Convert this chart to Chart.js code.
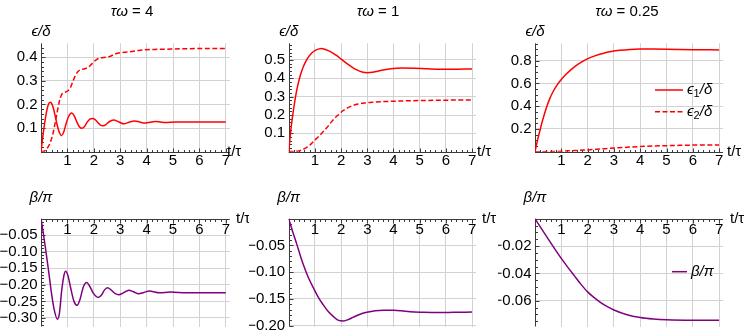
<!DOCTYPE html>
<html>
<head>
<meta charset="utf-8">
<script src="https://cdn.jsdelivr.net/npm/chart.js@4.4.0/dist/chart.umd.min.js"></script>
<style>
  html, body { margin: 0; padding: 0; background: #fff; }
  #wrap { position: relative; width: 747px; height: 336px; overflow: hidden; }
  #wrap canvas { position: absolute; }
</style>
</head>
<body>
<div id="wrap"></div>
<script>
// ===== data =====
const tauOmega = ['4', '1', '0.25'];
const xTickVals = [1, 2, 3, 4, 5, 6, 7];

// tau*omega = 4
const tEps1W4 = [0, 0.06, 0.13, 0.2, 0.27, 0.35, 0.44, 0.53, 0.62, 0.7, 0.77, 0.85, 0.95, 1.05, 1.16, 1.26, 1.36, 1.46, 1.55, 1.65, 1.75, 1.85, 1.95, 2.05, 2.15, 2.25, 2.35, 2.45, 2.55, 2.65, 2.75, 2.95, 3.14, 3.34, 3.54, 3.73, 3.93, 4.13, 4.33, 4.52, 4.72, 5.1, 5.5, 6, 7];
const eps1W4  = [0, 0.056, 0.115, 0.163, 0.197, 0.209, 0.195, 0.155, 0.11, 0.08, 0.068, 0.08, 0.118, 0.15, 0.164, 0.152, 0.125, 0.105, 0.099, 0.107, 0.125, 0.138, 0.141, 0.136, 0.124, 0.113, 0.11, 0.114, 0.124, 0.131, 0.134, 0.126, 0.118, 0.125, 0.13, 0.126, 0.121, 0.125, 0.128, 0.126, 0.124, 0.126, 0.126, 0.126, 0.126];
const tEps2W4 = [0, 0.14, 0.27, 0.37, 0.46, 0.58, 0.7, 0.78, 0.88, 1.0, 1.1, 1.2, 1.3, 1.4, 1.5, 1.65, 1.8, 1.95, 2.1, 2.25, 2.45, 2.6, 2.75, 2.9, 3.05, 3.3, 3.5, 3.7, 3.9, 4.3, 4.7, 5.5, 6.3, 7];
const eps2W4  = [0, 0.003, 0.02, 0.045, 0.08, 0.148, 0.215, 0.242, 0.25, 0.257, 0.268, 0.295, 0.322, 0.34, 0.347, 0.351, 0.358, 0.375, 0.39, 0.397, 0.4, 0.403, 0.411, 0.417, 0.42, 0.422, 0.425, 0.429, 0.431, 0.433, 0.434, 0.436, 0.437, 0.437];
const tBetaW4 = [0, 0.08, 0.15, 0.27, 0.39, 0.5, 0.62, 0.7, 0.78, 0.86, 0.93, 1.02, 1.12, 1.25, 1.37, 1.47, 1.6, 1.73, 1.85, 1.98, 2.17, 2.3, 2.4, 2.52, 2.65, 2.8, 2.95, 3.1, 3.33, 3.5, 3.7, 3.9, 4.1, 4.5, 4.9, 5.5, 6.2, 7];
const betaW4  = [0, -0.04, -0.078, -0.147, -0.221, -0.275, -0.304, -0.285, -0.22, -0.175, -0.159, -0.172, -0.208, -0.25, -0.262, -0.246, -0.207, -0.193, -0.205, -0.225, -0.238, -0.23, -0.216, -0.209, -0.215, -0.226, -0.23, -0.225, -0.216, -0.221, -0.227, -0.223, -0.219, -0.224, -0.222, -0.224, -0.224, -0.224];

// tau*omega = 1
const tEps1W1 = [0, 0.1, 0.2, 0.3, 0.43, 0.55, 0.7, 0.88, 1.05, 1.25, 1.4, 1.64, 1.85, 2.02, 2.2, 2.4, 2.6, 2.8, 3.0, 3.2, 3.4, 3.6, 3.9, 4.3, 4.8, 5.3, 5.8, 6.4, 7];
const eps1W1  = [0, 0.14, 0.245, 0.33, 0.41, 0.46, 0.505, 0.538, 0.555, 0.563, 0.557, 0.542, 0.522, 0.503, 0.483, 0.463, 0.446, 0.435, 0.431, 0.433, 0.439, 0.445, 0.452, 0.456, 0.455, 0.452, 0.45, 0.45, 0.451];
const tEps2W1 = [0, 0.37, 0.62, 0.8, 0.94, 1.1, 1.26, 1.45, 1.64, 1.83, 2.02, 2.2, 2.4, 2.65, 2.91, 3.2, 3.6, 4.2, 5, 6, 7];
const eps2W1  = [0, 0.004, 0.018, 0.035, 0.055, 0.077, 0.1, 0.13, 0.164, 0.193, 0.218, 0.235, 0.249, 0.26, 0.266, 0.27, 0.273, 0.276, 0.279, 0.281, 0.282];
const tBetaW1 = [0, 0.15, 0.31, 0.45, 0.56, 0.75, 0.94, 1.12, 1.32, 1.5, 1.7, 1.9, 2.09, 2.3, 2.47, 2.7, 2.98, 3.3, 3.61, 4.0, 4.3, 4.63, 5.14, 5.7, 6.3, 7];
const betaW1  = [0, -0.024, -0.048, -0.07, -0.086, -0.11, -0.129, -0.146, -0.161, -0.173, -0.1825, -0.19, -0.191, -0.188, -0.184, -0.179, -0.175, -0.172, -0.171, -0.171, -0.172, -0.174, -0.175, -0.1755, -0.175, -0.1745];

// tau*omega = 0.25
const tEps1W025 = [0, 0.09, 0.18, 0.3, 0.43, 0.55, 0.68, 0.85, 1.0, 1.2, 1.44, 1.7, 2.01, 2.3, 2.58, 2.9, 3.22, 3.6, 4.0, 4.5, 5, 6, 7];
const eps1W025  = [0, 0.095, 0.18, 0.285, 0.385, 0.46, 0.525, 0.59, 0.635, 0.685, 0.735, 0.779, 0.818, 0.845, 0.864, 0.88, 0.891, 0.899, 0.902, 0.902, 0.901, 0.897, 0.895];
const tEps2W025 = [0, 0.5, 1, 1.5, 2, 2.5, 3, 3.5, 4, 4.5, 5, 5.5, 6, 7];
const eps2W025  = [0, 0.001, 0.004, 0.01, 0.016, 0.024, 0.032, 0.039, 0.045, 0.05, 0.053, 0.056, 0.058, 0.06];
const tBetaW025 = [0, 0.25, 0.5, 0.75, 1.0, 1.25, 1.5, 1.75, 2.0, 2.25, 2.5, 2.75, 3.0, 3.5, 4.0, 4.5, 5.0, 6.0, 7.0];
const betaW025  = [0, -0.0075, -0.0148, -0.022, -0.029, -0.0356, -0.0418, -0.048, -0.0535, -0.0577, -0.0613, -0.0643, -0.0667, -0.0702, -0.0722, -0.0733, -0.0739, -0.0742, -0.0742];

// y tick labels per panel
const yTicksEpsW4   = [0.1, 0.2, 0.3, 0.4];
const yTicksEpsW1   = [0.1, 0.2, 0.3, 0.4, 0.5];
const yTicksEpsW025 = [0.2, 0.4, 0.6, 0.8];
const yTicksBetaW4   = [-0.05, -0.10, -0.15, -0.20, -0.25, -0.30];
const yTicksBetaW1   = [-0.05, -0.10, -0.15, -0.20];
const yTicksBetaW025 = [-0.02, -0.04, -0.06];

// ===== styling =====
const RED = '#ff0000';
const PURPLE = '#800080';
const GRID = '#d2d2d2';
const AXIS = '#3a3a3a';
const FONT = '"Liberation Sans", Arial, sans-serif';
const FS = 15;
const CELL_W = 249, CELL_H = 168;

const pts = (ts, ys) => ts.map((t, i) => ({ x: t, y: ys[i] }));

function line(label, ts, ys, color, dashed) {
  return {
    label,
    data: pts(ts, ys),
    borderColor: color,
    borderWidth: 1.5,
    borderDash: dashed ? [5, 2.5] : [],
    pointRadius: 0,
    cubicInterpolationMode: 'monotone',
    fill: false,
  };
}

// ---- rich text (italic / subscript pieces) ----
function fontFor(style, size) {
  const sz = style.includes('s') ? Math.round(size * 0.7) : size;
  return (style.includes('i') ? 'italic ' : '') + sz + 'px ' + FONT;
}
function drawRich(ctx, segs, x, y, size, align) {
  let w = 0;
  for (const [t, s] of segs) { ctx.font = fontFor(s, size); w += ctx.measureText(t).width; }
  let cx = align === 'center' ? x - w / 2 : align === 'right' ? x - w : x;
  ctx.textAlign = 'left';
  ctx.textBaseline = 'middle';
  for (const [t, s] of segs) {
    ctx.font = fontFor(s, size);
    ctx.fillText(t, cx, s.includes('s') ? y + size * 0.28 : y);
    cx += ctx.measureText(t).width;
  }
}

const fmt = (v, dec) => (v < 0 ? '\u2212' : '') + Math.abs(v).toFixed(dec);

// ---- Mathematica-like axes through the origin ----
const mathAxes = {
  id: 'mathAxes',
  beforeDatasetsDraw(chart, args, o) {
    const { ctx, chartArea: a, scales: { x, y } } = chart;
    const ax = Math.round(x.getPixelForValue(0)) + 0.5;
    const ay = Math.round(y.getPixelForValue(0)) + 0.5;
    ctx.save();
    ctx.strokeStyle = AXIS;
    ctx.lineWidth = 1;
    ctx.beginPath();
    ctx.moveTo(a.left, ay); ctx.lineTo(a.right, ay);
    ctx.moveTo(ax, a.top); ctx.lineTo(ax, a.bottom);
    // x ticks (major at integers, minor every 0.2)
    for (let k = 1; k * 0.2 <= x.max + 1e-9; k++) {
      const px = Math.round(x.getPixelForValue(k * 0.2)) + 0.5;
      const len = k % 5 === 0 ? 4 : 2.5;
      ctx.moveTo(px, ay); ctx.lineTo(px, ay + o.xTickDir * len);
    }
    // y ticks
    const minor = o.yStep / o.ySub;
    const n0 = Math.ceil(y.min / minor - 1e-6), n1 = Math.floor(y.max / minor + 1e-6);
    for (let k = n0; k <= n1; k++) {
      if (k === 0) continue;
      const py = Math.round(y.getPixelForValue(k * minor)) + 0.5;
      const len = k % o.ySub === 0 ? 4 : 2.5;
      ctx.moveTo(ax, py); ctx.lineTo(ax + len, py);
    }
    ctx.stroke();
    ctx.restore();
  },
  afterDraw(chart, args, o) {
    const { ctx, scales: { x, y } } = chart;
    const ax = x.getPixelForValue(0);
    const ay = y.getPixelForValue(0);
    ctx.save();
    ctx.fillStyle = '#000';
    ctx.font = FS + 'px ' + FONT;
    ctx.textBaseline = 'middle';
    ctx.textAlign = 'center';
    for (const t of x.ticks) {
      if (t.value === 0 || t.value > 7) continue;
      ctx.fillText(String(t.value), x.getPixelForValue(t.value), ay + o.xLabelDy);
    }
    ctx.textAlign = 'right';
    for (const t of y.ticks) {
      if (t.value === 0 || t.value < y.min || t.value > y.max) continue;
      ctx.fillText(fmt(t.value, o.yDec), ax - 3.5, y.getPixelForValue(t.value));
    }
    // axis labels
    drawRich(ctx, [['t/\u03C4', '']], o.tLabelX, ay, FS, 'left');
    drawRich(ctx, o.yLabel, ax, o.yLabelY, FS, 'center');
    if (o.title) drawRich(ctx, o.title, o.titleX, 12, FS, 'center');
    // legend
    if (o.legend) {
      chart.data.datasets.forEach((ds, i) => {
        const ly = o.legend.y + i * o.legend.dy;
        ctx.save();
        ctx.strokeStyle = ds.borderColor;
        ctx.lineWidth = ds.borderWidth;
        ctx.setLineDash(ds.borderDash || []);
        ctx.beginPath();
        ctx.moveTo(o.legend.x0, ly); ctx.lineTo(o.legend.x1, ly);
        ctx.stroke();
        ctx.restore();
        drawRich(ctx, o.legend.labels[i], o.legend.x1 + 4, ly, FS, 'left');
      });
    }
    ctx.restore();
  }
};

// ---- panel layout (page coordinates of the plot areas) ----
const TOP_ROW = { top: 43.3, bottom: 151.7 };
const BOT_ROW = { top: 218.7, bottom: 326.5 };
const epsLabel = [['\u03F5/\u03B4', 'i']];
const betaLabel = [['\u03B2/\u03C0', 'i']];
const title = v => [['\u03C4\u03C9', 'i'], [' = ' + v, '']];

const panels = [
  { col: 0, row: 0, x0: 41, unit: 26.4, yMin: 0, yMax: 0.459, yStep: 0.1, ySub: 5, yDec: 1, yTicks: yTicksEpsW4,
    title: title(tauOmega[0]), titleX: 132, yLabel: epsLabel, tLabelX: 227,
    datasets: [line('eps1', tEps1W4, eps1W4, RED, false), line('eps2', tEps2W4, eps2W4, RED, true)] },
  { col: 1, row: 0, x0: 288.7, unit: 26.2, yMin: 0, yMax: 0.591, yStep: 0.1, ySub: 5, yDec: 1, yTicks: yTicksEpsW1,
    title: title(tauOmega[1]), titleX: 129, yLabel: epsLabel, tLabelX: 228,
    datasets: [line('eps1', tEps1W1, eps1W1, RED, false), line('eps2', tEps2W1, eps2W1, RED, true)] },
  { col: 2, row: 0, x0: 535, unit: 26.3, yMin: 0, yMax: 0.953, yStep: 0.2, ySub: 4, yDec: 1, yTicks: yTicksEpsW025,
    title: title(tauOmega[2]), titleX: 129, yLabel: epsLabel, tLabelX: 229,
    legend: { x0: 157, x1: 185, y: 90, dy: 21.7,
      labels: [[['\u03F5', 'i'], ['1', 's'], ['/\u03B4', 'i']], [['\u03F5', 'i'], ['2', 's'], ['/\u03B4', 'i']]] },
    datasets: [line('eps1', tEps1W025, eps1W025, RED, false), line('eps2', tEps2W025, eps2W025, RED, true)] },
  { col: 0, row: 1, x0: 41, unit: 26.4, yMin: -0.326, yMax: 0, yStep: 0.05, ySub: 5, yDec: 2, yTicks: yTicksBetaW4,
    yLabel: betaLabel, tLabelX: 236,
    datasets: [line('beta', tBetaW4, betaW4, PURPLE, false)] },
  { col: 1, row: 1, x0: 288.7, unit: 26.2, yMin: -0.2015, yMax: 0, yStep: 0.05, ySub: 5, yDec: 2, yTicks: yTicksBetaW1,
    yLabel: betaLabel, tLabelX: 233,
    datasets: [line('beta', tBetaW1, betaW1, PURPLE, false)] },
  { col: 2, row: 1, x0: 535, unit: 26.3, yMin: -0.0788, yMax: 0, yStep: 0.02, ySub: 4, yDec: 2, yTicks: yTicksBetaW025,
    yLabel: betaLabel, tLabelX: 232,
    legend: { x0: 174, x1: 189, y: 103.7, dy: 0, labels: [[['\u03B2/\u03C0', 'i']]] },
    datasets: [line('beta', tBetaW025, betaW025, PURPLE, false)] },
];

const wrap = document.getElementById('wrap');
for (const p of panels) {
  const cellL = p.col * CELL_W, cellT = p.row * CELL_H;
  const rowBox = p.row === 0 ? TOP_ROW : BOT_ROW;
  const x1 = p.x0 + 7.15 * p.unit;
  const canvas = document.createElement('canvas');
  canvas.width = CELL_W; canvas.height = CELL_H;
  canvas.style.left = cellL + 'px'; canvas.style.top = cellT + 'px';
  wrap.appendChild(canvas);

  const yLabelY = p.row === 0 ? 31.5 : 30;
  new Chart(canvas, {
    type: 'line',
    data: { datasets: p.datasets },
    options: {
      responsive: false,
      animation: false,
      devicePixelRatio: 1,
      layout: { padding: {
        left: p.x0 - cellL, right: cellL + CELL_W - x1,
        top: rowBox.top - cellT, bottom: cellT + CELL_H - rowBox.bottom } },
      plugins: {
        legend: { display: false },
        tooltip: { enabled: false },
        mathAxes: {
          xTickDir: p.row === 0 ? -1 : 1,
          xLabelDy: p.row === 0 ? 9 : 11,
          yStep: p.yStep, ySub: p.ySub, yDec: p.yDec,
          title: p.title, titleX: p.titleX, yLabel: p.yLabel, yLabelY,
          tLabelX: p.tLabelX, legend: p.legend,
        },
      },
      scales: {
        x: {
          type: 'linear', min: 0, max: 7.15,
          border: { display: false },
          grid: { color: c => (c.tick && c.tick.value === 0 ? 'rgba(0,0,0,0)' : GRID), drawTicks: false },
          ticks: { display: false },
          afterBuildTicks: s => { s.ticks = xTickVals.map(v => ({ value: v })); },
        },
        y: {
          type: 'linear', min: p.yMin, max: p.yMax,
          border: { display: false },
          grid: { color: GRID, drawTicks: false },
          ticks: { display: false },
          afterBuildTicks: s => { s.ticks = p.yTicks.map(v => ({ value: v })); },
        },
      },
    },
    plugins: [mathAxes],
  });
}
</script>
</body>
</html>
